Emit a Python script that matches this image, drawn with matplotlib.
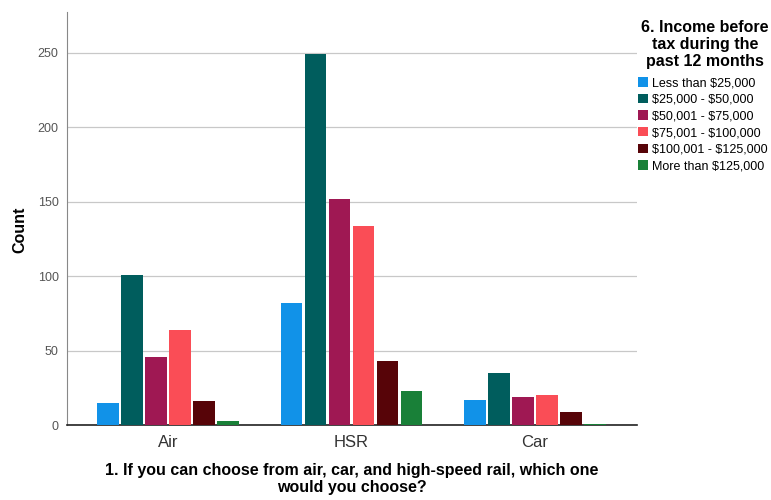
import matplotlib
matplotlib.use("Agg")
import matplotlib.pyplot as plt
import numpy as np

plt.rcParams['font.family'] = ['Liberation Sans', 'DejaVu Sans']

categories = ["Air", "HSR", "Car"]
series_names = ["Less than $25,000", "$25,000 - $50,000", "$50,001 - $75,000",
                "$75,001 - $100,000", "$100,001 - $125,000", "More than $125,000"]
less_25k = [15, 82, 17]
k25_50 = [101, 249, 35]
k50_75 = [46, 152, 19]
k75_100 = [64, 134, 20]
k100_125 = [16, 43, 9]
more_125k = [3, 23, 1]
colors = ["#1192e8", "#005d5d", "#9f1853", "#fa4d56", "#570408", "#198038"]
yticks = [0, 50, 100, 150, 200, 250]

series = [less_25k, k25_50, k50_75, k75_100, k100_125, more_125k]

fig = plt.figure(figsize=(7.71, 5.0), dpi=100)
ax = fig.add_axes([67/771, 75/500, 570/771, 413/500])

x = np.arange(len(categories))
slot = 0.131
width = 0.118
n = len(series)
for i, (vals, name, c) in enumerate(zip(series, series_names, colors)):
    ax.bar(x + (i - (n - 1) / 2) * slot, vals, width=width, color=c,
           label=name.replace("$", r"\$"), zorder=3)

ax.set_xlim(-0.55, 2.555)
ax.set_ylim(0, 277.5)
ax.set_yticks(yticks)
ax.set_yticklabels([str(t) for t in yticks], fontsize=9, color="#555555")
ax.set_xticks(x)
ax.set_xticklabels(categories, fontsize=12, color="#333333")
ax.tick_params(axis='y', length=0, pad=6)
ax.tick_params(axis='x', length=0, pad=7)
ax.yaxis.grid(True, color="#c8c8c8", linewidth=0.9, zorder=0)
ax.set_axisbelow(True)
for s in ["top", "right"]:
    ax.spines[s].set_visible(False)
ax.spines["left"].set_color("#888888")
ax.spines["bottom"].set_color("#222222")
ax.spines["bottom"].set_linewidth(1.2)

ax.set_ylabel("Count", fontsize=11.5, fontweight="bold", va="center")
ax.yaxis.set_label_coords((20 - 67) / 570, (425 - 230) / 413)
ax.set_xlabel("1. If you can choose from air, car, and high-speed rail, which one\nwould you choose?",
              fontsize=11.5, fontweight="bold", linespacing=1.1, va="center")
ax.xaxis.set_label_coords((352 - 67) / 570, (425 - 479) / 413)

fig.text(705 / 771, 1 - 20 / 500, "6. Income before\ntax during the\npast 12 months",
         ha="center", va="top", multialignment="center", fontsize=11.5,
         fontweight="bold", linespacing=1.15)

leg = ax.legend(loc="upper left", bbox_to_anchor=((638 - 67) / 570, 1 - (77 - 12) / 413),
                frameon=False, fontsize=9, handlelength=0.8, handleheight=0.8,
                handletextpad=0.35, labelspacing=0.36, borderaxespad=0, borderpad=0)

fig.savefig("out.png", dpi=100)
